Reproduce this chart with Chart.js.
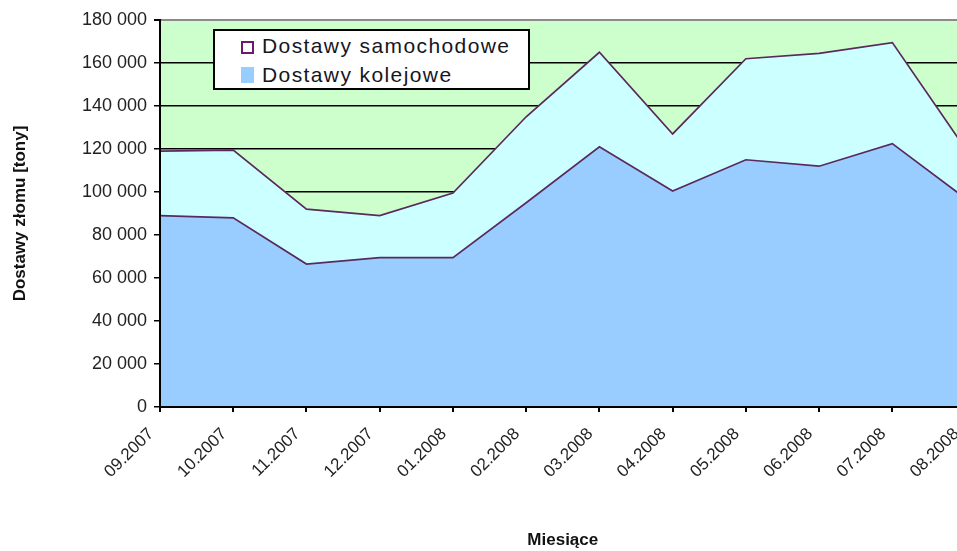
<!DOCTYPE html>
<html>
<head>
<meta charset="utf-8">
<script src="https://cdn.jsdelivr.net/npm/chart.js@4.4.1/dist/chart.umd.min.js"></script>
<style>
  html, body { margin: 0; padding: 0; background: #fff; overflow: hidden; }
  #wrap { position: relative; width: 957px; height: 551px; overflow: hidden; }
  #box { position: absolute; left: 0; top: 0; width: 992px; height: 551px; }
  #legend {
    position: absolute; left: 213px; top: 29px; width: 313px; height: 57px;
    border: 2px solid #000; background: #fff;
    font-family: "Liberation Sans", Arial, sans-serif; font-size: 21px;
    letter-spacing: 1.4px; color: #16161f;
  }
  #legend .txt { position: absolute; left: 47px; line-height: 21px; white-space: nowrap; }
  #legend .mk { position: absolute; box-sizing: border-box; }
</style>
</head>
<body>
<div id="wrap">
  <div id="box"><canvas id="c" width="992" height="551"></canvas></div>
  <div id="legend">
    <div class="mk" style="left:26px;top:10px;width:13px;height:13px;border:2px solid #6a1b6a;background:#fff;"></div>
    <div class="txt" style="top:4px;">Dostawy samochodowe</div>
    <div class="mk" style="left:26px;top:36px;width:13px;height:16px;background:#99ccff;"></div>
    <div class="txt" style="top:33px;">Dostawy kolejowe</div>
  </div>
</div>
<script>
// Monthly scrap deliveries, tonnes
const months = ['09.2007', '10.2007', '11.2007', '12.2007', '01.2008', '02.2008',
                '03.2008', '04.2008', '05.2008', '06.2008', '07.2008', '08.2008'];
const railDeliveries = [89000, 88000, 66500, 69500, 69500, 95000,
                        121000, 100500, 115000, 112000, 122500, 97000];
const truckDeliveries = [30000, 31500, 25500, 19500, 30000, 40000,
                         44000, 26500, 47000, 52500, 47000, 23000];
const yTicks = [0, 20000, 40000, 60000, 80000, 100000, 120000, 140000, 160000, 180000];

Chart.defaults.font.family = '"Liberation Sans", Arial, sans-serif';
Chart.defaults.color = '#222';

const fmt = v => v === 0 ? '0' : String(v).replace(/\B(?=(\d{3})+(?!\d))/g, ' ');

// light green plot background
const plotBg = {
  id: 'plotBg',
  beforeDraw(chart) {
    const { ctx, chartArea: a } = chart;
    ctx.save();
    ctx.fillStyle = '#ccffcc';
    ctx.fillRect(a.left, a.top, a.right - a.left, a.bottom - a.top);
    ctx.restore();
  }
};

new Chart(document.getElementById('c'), {
  type: 'line',
  data: {
    labels: months,
    datasets: [
      {
        label: 'Dostawy kolejowe',
        data: railDeliveries,
        fill: 'origin',
        backgroundColor: '#99ccff',
        borderColor: '#5a2a5e',
        borderWidth: 1.7,
        pointRadius: 0,
        tension: 0
      },
      {
        label: 'Dostawy samochodowe',
        data: truckDeliveries,
        fill: '-1',
        backgroundColor: '#ccffff',
        borderColor: '#5a2a5e',
        borderWidth: 1.7,
        pointRadius: 0,
        tension: 0
      }
    ]
  },
  options: {
    responsive: false,
    animation: false,
    devicePixelRatio: 1,
    layout: { padding: { top: 20, right: 14, left: 0, bottom: 0 } },
    plugins: {
      legend: { display: false },
      tooltip: { enabled: false }
    },
    scales: {
      x: {
        offset: false,
        grid: { drawOnChartArea: false, drawTicks: true, tickLength: 5, tickColor: '#000', lineWidth: 2, offset: false },
        border: { color: '#000', width: 2, z: 1 },
        ticks: {
          autoSkip: false, minRotation: 45, maxRotation: 45,
          font: { size: 17 }, color: '#222', padding: 12, labelOffset: -9
        },
        title: {
          display: true, text: 'Miesiące',
          font: { size: 17, weight: 'bold' }, color: '#111',
          padding: { top: 0, bottom: 0 }
        },
        afterFit(scale) { scale.height = 144; }
      },
      y: {
        stacked: true,
        min: 0, max: 180000,
        afterBuildTicks(scale) { scale.ticks = yTicks.map(v => ({ value: v })); },
        grid: {
          color: ctx => ctx.tick && ctx.tick.value === 180000 ? '#8a8a8a' : '#000',
          lineWidth: ctx => ctx.tick && ctx.tick.value === 180000 ? 2 : 1.5,
          tickColor: '#000', tickLength: 6, drawTicks: true
        },
        border: { color: '#000', width: 2, z: 1 },
        ticks: { font: { size: 18 }, color: '#222', padding: 7, callback: v => fmt(v) },
        title: {
          display: true, text: 'Dostawy złomu [tony]',
          font: { size: 17, weight: 'bold' }, color: '#111',
          padding: { top: 10, bottom: 0 }
        },
        afterFit(scale) { scale.width = 160; }
      }
    }
  },
  plugins: [plotBg]
});
</script>
</body>
</html>
